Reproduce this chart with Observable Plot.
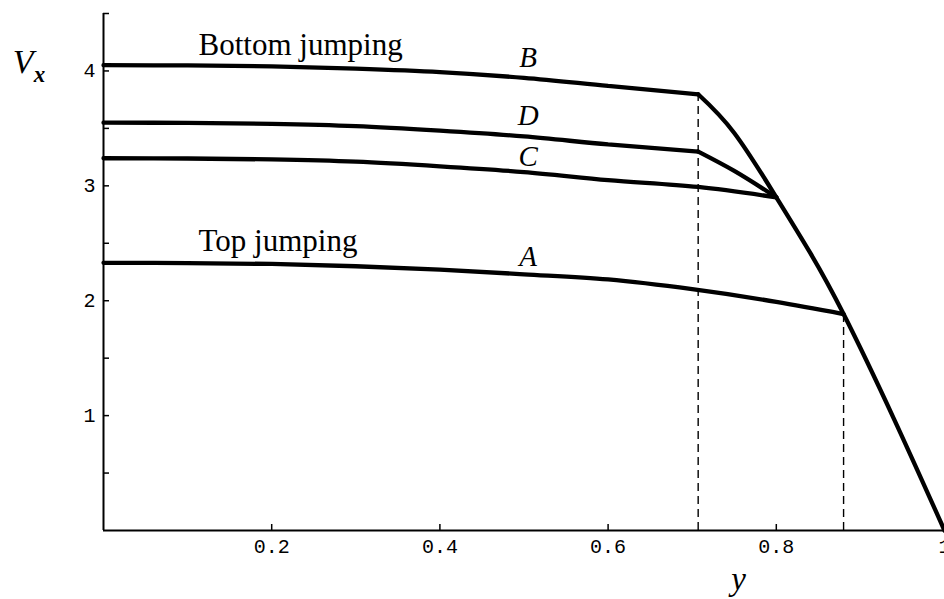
<!DOCTYPE html>
<html>
<head>
<meta charset="utf-8">
<script src="https://cdn.jsdelivr.net/npm/d3@7"></script>
<script src="https://cdn.jsdelivr.net/npm/@observablehq/plot@0.6"></script>
<style>
  html, body { margin: 0; padding: 0; background: #fff; }
  #chart svg { display: block; }
</style>
</head>
<body>
<div id="chart"></div>
<script>
// Jump velocity V_x against position y for the four configurations.
const yFlat = [0, 0.1, 0.2, 0.3, 0.4, 0.5, 0.6, 0.7071];
const vB = [4.05, 4.048, 4.04, 4.02, 3.99, 3.94, 3.87, 3.797];
const vD = [3.55, 3.548, 3.54, 3.52, 3.48, 3.43, 3.36, 3.298];

const yC = [0, 0.1, 0.2, 0.3, 0.4, 0.5, 0.6, 0.7071, 0.8];
const vC = [3.24, 3.238, 3.23, 3.21, 3.17, 3.12, 3.05, 2.99, 2.90];

const yA = [0, 0.1, 0.2, 0.3, 0.4, 0.5, 0.6, 0.7, 0.8, 0.88];
const vA = [2.33, 2.328, 2.32, 2.30, 2.27, 2.23, 2.185, 2.10, 1.99, 1.884];

// D branch leaving its plateau and joining C
const yDlink = [0.7071, 0.75, 0.8];
const vDlink = [3.298, 3.13, 2.90];

// Upper bound reached by every branch beyond its kink
const yEnv = [0.7071, 0.75, 0.8, 0.84, 0.88, 0.94, 1];
const vEnv = [3.797, 3.46, 2.90, 2.42, 1.884, 0.97, 0];

// Dashed markers at the kink positions
const kinkY = [0.7071, 0.88];
const kinkV = [3.797, 1.884];

const xTicks = [0.2, 0.4, 0.6, 0.8, 1];
const xTickLabels = ["0.2", "0.4", "0.6", "0.8", "1"];
const yTicks = [0.5, 1, 1.5, 2, 2.5, 3, 3.5, 4, 4.5];
const yTickLabels = ["", "1", "", "2", "", "3", "", "4", ""];

// Annotations placed in data units
const notes = [
  {text: "Bottom jumping", y: 0.113, v: 4.136},
  {text: "Top jumping", y: 0.113, v: 2.435}
];
const branchNames = ["B", "D", "C", "A"];
const branchLabelY = [0.505, 0.505, 0.505, 0.505];
const branchLabelV = [4.116, 3.609, 3.252, 2.383];

const rows = (name, xs, vs) => xs.map((x, i) => ({series: name, x, v: vs[i]}));
const branches = [
  ...rows("B", yFlat, vB),
  ...rows("D", yFlat, vD),
  ...rows("C", yC, vC),
  ...rows("A", yA, vA),
  ...rows("Dlink", yDlink, vDlink)
];
const envelope = rows("Env", yEnv, vEnv);
const kinks = kinkY.map((x, i) => ({x, v: kinkV[i]}));
const branchLabels = branchNames.map((t, i) => ({text: t, y: branchLabelY[i], v: branchLabelV[i]}));

const serif = "'Liberation Serif', 'DejaVu Serif', serif";
const mono = "'Liberation Mono', 'DejaVu Sans Mono', monospace";
const lineStyle = {x: "x", y: "v", stroke: "#000", strokeWidth: 4.3, strokeLinejoin: "miter"};

const chart = Plot.plot({
  width: 944,
  height: 599,
  marginLeft: 103,
  marginRight: 0,
  marginTop: 13,
  marginBottom: 69,
  style: {background: "#fff", color: "#000", overflow: "visible"},
  x: {domain: [0, 1]},
  y: {domain: [0, 4.5]},
  marks: [
    // axis lines
    Plot.ruleX([0], {y1: 0, y2: 4.5, stroke: "#000", strokeWidth: 2}),
    Plot.ruleY([0], {x1: 0, x2: 1, stroke: "#000", strokeWidth: 2}),
    // inward tick marks
    Plot.ruleX(xTicks, {x: d => d, y1: 0, y2: 0, insetTop: -6, stroke: "#000", strokeWidth: 1.5}),
    Plot.ruleY(yTicks, {y: d => d, x1: 0, x2: 0, insetRight: -6, stroke: "#000", strokeWidth: 1.5}),
    // tick labels
    Plot.axisX(xTicks, {tickSize: 0, tickPadding: 8, tickFormat: (d, i) => xTickLabels[i],
      fontSize: 20, fontFamily: mono, label: null}),
    Plot.axisY(yTicks, {tickSize: 0, tickPadding: 8, tickFormat: (d, i) => yTickLabels[i],
      fontSize: 20, fontFamily: mono, label: null}),
    // dashed guides at the kinks
    Plot.ruleX(kinks, {x: "x", y1: 0, y2: "v", stroke: "#000", strokeWidth: 1.4, strokeDasharray: "8,5"}),
    // curves
    Plot.line(branches, {...lineStyle, z: "series", curve: "monotone-x"}),
    Plot.line(envelope, {...lineStyle, curve: "natural"}),
    // annotations
    Plot.text(notes, {x: "y", y: "v", text: "text", textAnchor: "start", lineAnchor: "bottom",
      fontSize: 31, fontFamily: serif, fill: "#000"}),
    Plot.text(branchLabels, {x: "y", y: "v", text: "text", textAnchor: "middle", lineAnchor: "middle",
      fontSize: 29, fontFamily: serif, fontStyle: "italic", fill: "#000"}),
    // axis titles
    Plot.text(["V"], {x: -0.108, y: 3.98, text: d => d, textAnchor: "start", lineAnchor: "bottom",
      fontSize: 34, fontFamily: serif, fontStyle: "italic", fill: "#000"}),
    Plot.text(["x"], {x: -0.083, y: 3.90, text: d => d, textAnchor: "start", lineAnchor: "bottom",
      fontSize: 23, fontFamily: serif, fontStyle: "italic", fontWeight: "bold", fill: "#000"}),
    Plot.text(["y"], {x: 0.755, y: -0.52, text: d => d, textAnchor: "middle", lineAnchor: "bottom",
      fontSize: 33, fontFamily: serif, fontStyle: "italic", fill: "#000"})
  ]
});
document.getElementById("chart").append(chart);
</script>
</body>
</html>
